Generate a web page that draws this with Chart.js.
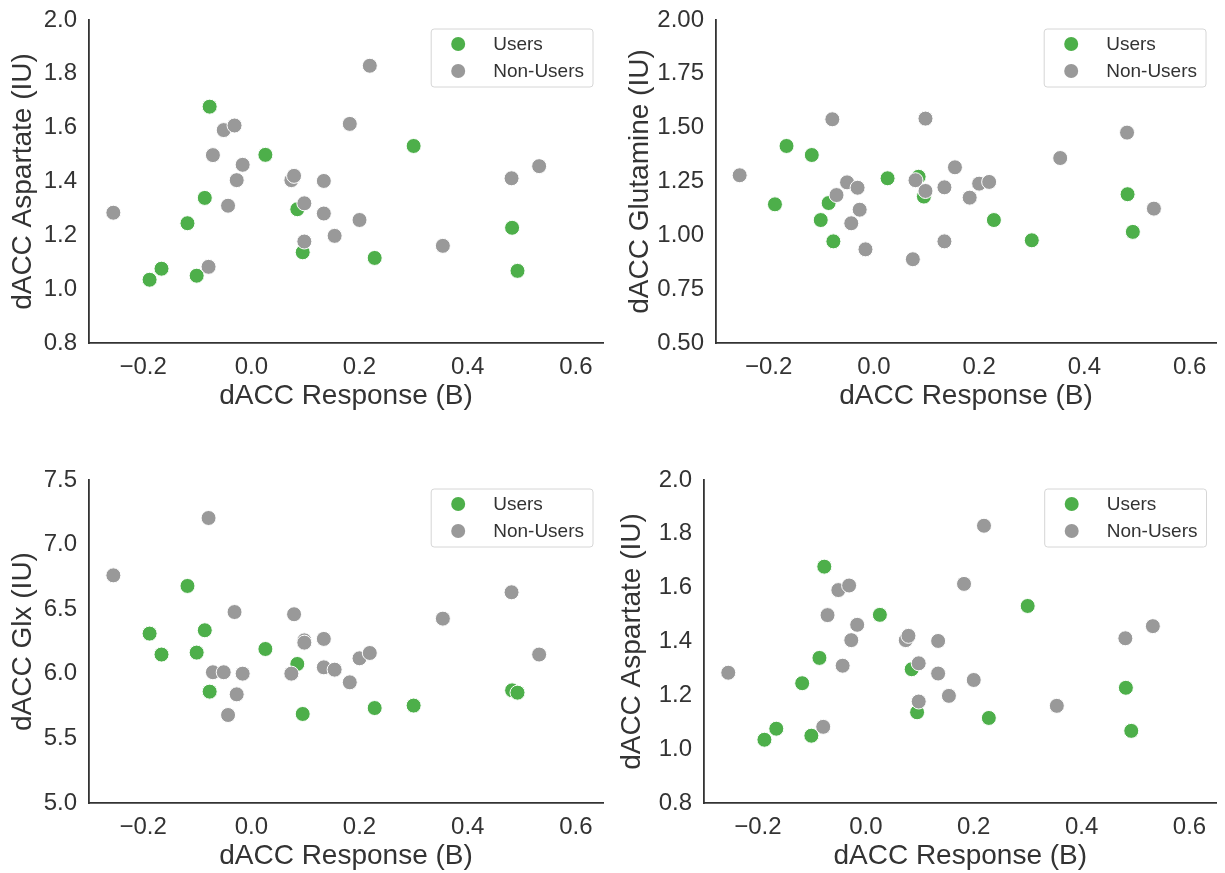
<!DOCTYPE html>
<html lang="en">
<head>
  <meta charset="UTF-8" />
  <title>dACC metabolites vs response</title>
  <script src="https://cdn.jsdelivr.net/npm/chart.js"></script>
  <style>
    body { margin: 0; background: #fff; }
    #fig { position: relative; width: 1225px; height: 873px; }
    #fig canvas { position: absolute; }
  </style>
</head>
<body>
  <div id="fig">
    <canvas id="aspTop" width="612" height="413" style="left:0;top:0"></canvas>
    <canvas id="glu" width="613" height="413" style="left:612px;top:0"></canvas>
    <canvas id="glx" width="612" height="413" style="left:0;top:460px"></canvas>
    <canvas id="aspBottom" width="613" height="413" style="left:612px;top:460px"></canvas>
  </div>

  <script>
    // x values (dACC response) are shared by all four panels
    const xUsers = [-0.188, -0.166, -0.118, -0.101, -0.086, -0.077, 0.026, 0.085, 0.095, 0.228, 0.300, 0.482, 0.492];
    const xNonUsers = [-0.255, -0.079, -0.071, -0.051, -0.043, -0.031, -0.027, -0.016, 0.074, 0.079, 0.098, 0.098, 0.134, 0.134, 0.154, 0.182, 0.200, 0.219, 0.354, 0.481, 0.532];

    const aspUsers = [1.035, 1.076, 1.245, 1.050, 1.339, 1.678, 1.499, 1.297, 1.137, 1.116, 1.532, 1.228, 1.068];
    const aspNonUsers = [1.284, 1.083, 1.498, 1.591, 1.310, 1.608, 1.405, 1.462, 1.405, 1.421, 1.319, 1.177, 1.402, 1.281, 1.198, 1.614, 1.257, 1.830, 1.161, 1.412, 1.457];

    const gluUsers = [1.144, 1.415, 1.373, 1.071, 1.150, 0.972, 1.265, 1.272, 1.180, 1.071, 0.977, 1.191, 1.016];
    const gluNonUsers = [1.279, 1.539, 1.187, 1.246, 1.056, 1.221, 1.119, 0.935, 0.889, 1.256, 1.542, 1.206, 1.223, 0.972, 1.316, 1.175, 1.240, 1.248, 1.359, 1.477, 1.124];

    const glxUsers = [6.311, 6.149, 6.680, 6.164, 6.337, 5.862, 6.192, 6.076, 5.689, 5.735, 5.754, 5.872, 5.854];
    const glxNonUsers = [6.762, 7.206, 6.012, 6.012, 5.681, 6.478, 5.841, 6.001, 6.001, 6.461, 6.259, 6.241, 6.270, 6.050, 6.032, 5.934, 6.120, 6.161, 6.427, 6.631, 6.149];

    const xTicks = [-0.2, 0.0, 0.2, 0.4, 0.6];
    const aspTicks = [0.8, 1.0, 1.2, 1.4, 1.6, 1.8, 2.0];
    const gluTicks = [0.50, 0.75, 1.00, 1.25, 1.50, 1.75, 2.00];
    const glxTicks = [5.0, 5.5, 6.0, 6.5, 7.0, 7.5];

    const groupNames = ['Users', 'Non-Users'];
    const GREEN = '#4daf4a';
    const GREY = '#999999';
    const INK = '#333333';
    const FONT = "'Liberation Sans', Arial, sans-serif";

    function fmt(v, dec) {
      return v.toFixed(dec).replace('-', '\u2212');
    }

    function pts(xs, ys) {
      return xs.map((x, i) => ({ x: x, y: ys[i] }));
    }

    // matplotlib-style framed legend in the top right of the plot area
    const boxLegend = {
      id: 'boxLegend',
      afterDraw(chart) {
        const { ctx, chartArea } = chart;
        ctx.save();
        ctx.font = '19px ' + FONT;
        const sets = chart.data.datasets;
        const textW = Math.max(...sets.map(d => ctx.measureText(d.label).width));
        const w = 62 + textW + 9;
        const h = 58;
        const left = chartArea.right - 10 - w;
        const top = chartArea.top + 9;
        ctx.beginPath();
        ctx.roundRect(left, top, w, h, 3);
        ctx.fillStyle = 'rgba(255,255,255,0.8)';
        ctx.fill();
        ctx.strokeStyle = '#d6d6d6';
        ctx.lineWidth = 1;
        ctx.stroke();
        sets.forEach((d, i) => {
          const cy = top + 15 + i * 27;
          ctx.beginPath();
          ctx.arc(left + 27, cy, 7, 0, Math.PI * 2);
          ctx.fillStyle = d.backgroundColor;
          ctx.fill();
          ctx.fillStyle = INK;
          ctx.textBaseline = 'middle';
          ctx.textAlign = 'left';
          ctx.fillText(d.label, left + 62, cy + 1);
        });
        ctx.restore();
      }
    };

    function makePanel(id, yLabel, usersY, nonUsersY, yTickVals, dec, lay) {
      new Chart(document.getElementById(id), {
        type: 'scatter',
        data: {
          datasets: [
            { label: groupNames[0], data: pts(xUsers, usersY), backgroundColor: GREEN, order: 1 },
            { label: groupNames[1], data: pts(xNonUsers, nonUsersY), backgroundColor: GREY, order: 0 }
          ]
        },
        options: {
          responsive: false,
          animation: false,
          layout: { padding: { top: 20, right: lay.right, left: 0, bottom: 0 } },
          elements: { point: { radius: 7.5, hoverRadius: 7.5, borderColor: '#ffffff', borderWidth: 1 } },
          plugins: { legend: { display: false }, tooltip: { enabled: false } },
          scales: {
            x: {
              type: 'linear',
              min: -0.3,
              max: 0.65,
              grid: { display: false, drawTicks: false },
              border: { display: true, color: INK, width: 1.8 },
              afterBuildTicks: s => { s.ticks = xTicks.map(v => ({ value: v })); },
              afterFit: s => { s.height = 70; s.paddingLeft = 0; s.paddingRight = 0; },
              ticks: {
                color: INK, padding: 10, maxRotation: 0,
                font: { family: FONT, size: 24 },
                callback: v => fmt(v, 1)
              },
              title: {
                display: true, text: 'dACC Response (B)', color: INK,
                font: { family: FONT, size: 28, lineHeight: 1.2 },
                padding: { top: 0, bottom: 0 }
              }
            },
            y: {
              type: 'linear',
              min: yTickVals[0],
              max: yTickVals[yTickVals.length - 1],
              grid: { display: false, drawTicks: false },
              border: { display: true, color: INK, width: 1.8 },
              afterBuildTicks: s => { s.ticks = yTickVals.map(v => ({ value: v })); },
              // fixed axis box, and no extra room above/below for the end labels
              afterFit: s => { s.width = lay.left; s.paddingTop = 0; s.paddingBottom = 0; },
              ticks: {
                color: INK, padding: 12,
                font: { family: FONT, size: 24 },
                callback: v => fmt(v, dec)
              },
              title: {
                display: true, text: yLabel, color: INK,
                font: { family: FONT, size: 28, lineHeight: 1.2 },
                padding: { top: lay.titlePad, bottom: 0 }
              }
            }
          }
        },
        plugins: [boxLegend]
      });
    }

    makePanel('aspTop', 'dACC Aspartate (IU)', aspUsers, aspNonUsers, aspTicks, 1, { left: 89, right: 9, titlePad: 6 });
    makePanel('glu', 'dACC Glutamine (IU)', gluUsers, gluNonUsers, gluTicks, 2, { left: 104, right: 9, titlePad: 11 });
    makePanel('glx', 'dACC Glx (IU)', glxUsers, glxNonUsers, glxTicks, 1, { left: 89, right: 9, titlePad: 6 });
    makePanel('aspBottom', 'dACC Aspartate (IU)', aspUsers, aspNonUsers, aspTicks, 1, { left: 92, right: 8, titlePad: 3 });
  </script>
</body>
</html>
